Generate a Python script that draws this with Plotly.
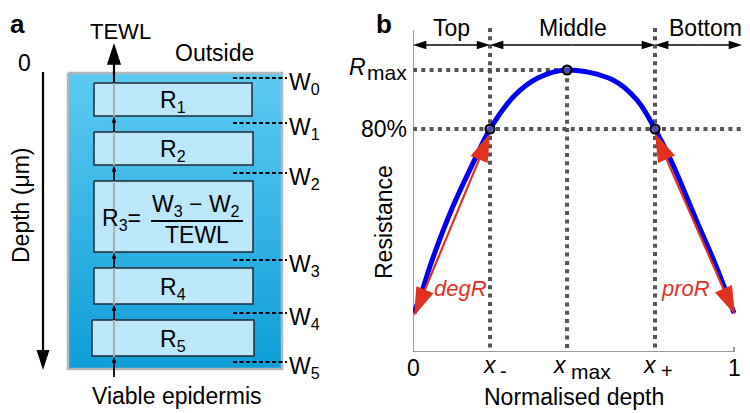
import plotly.graph_objects as go

FONT = "Liberation Sans, Arial, sans-serif"
RED = "#e2321f"
DOT = "#555555"

# ---------------- Panel b data (normalised depth vs resistance, Rmax = 1) ----------------
depth_x = [0.003, 0.028, 0.062, 0.121, 0.193, 0.240, 0.318, 0.389, 0.480,
           0.623, 0.698, 0.754, 0.807, 0.885, 0.944, 1.000]
resistance_y = [0.176, 0.251, 0.363, 0.529, 0.698, 0.800, 0.915, 0.973, 1.000,
                0.966, 0.898, 0.800, 0.685, 0.485, 0.336, 0.176]
x_minus, x_max, x_plus = 0.240, 0.480, 0.754
r_max, r_80 = 1.0, 0.8
deg_arrow_x, deg_arrow_y = [0.240, 0.003], [0.786, 0.166]
pro_arrow_x, pro_arrow_y = [0.754, 1.003], [0.786, 0.170]
region_labels = ["Top", "Middle", "Bottom"]
region_edges = [0.0, x_minus, x_plus, 1.025]
region_label_x = [0.12, 0.497, 0.91]

# ---------------- Panel a layout (schematic, pixel units) ----------------
layer_names = ["R<sub>1</sub>", "R<sub>2</sub>", "", "R<sub>4</sub>", "R<sub>5</sub>"]
layer_top = [83, 132, 181, 268, 320]
layer_bottom = [116, 165, 252, 304, 356]
layer_left = [94, 94, 94, 94, 92]
layer_right = [252, 253, 253, 253, 254]
w_labels = ["W<sub>0</sub>", "W<sub>1</sub>", "W<sub>2</sub>", "W<sub>3</sub>", "W<sub>4</sub>", "W<sub>5</sub>"]
w_levels = [78, 123, 173, 260, 313, 362]
box = dict(x0=68, x1=282, y0=73, y1=369)
flux_x = 114

# page offset (browser body margin) and figure size
OFF = 8
FIG_W, FIG_H = 750 - OFF, 413 - OFF


# panel b pixel mapping helpers (x: 0->413px, 1->734px ; y: Rmax->70px, 80%->129px)
def by(py):
    return 1 - (py - 70) / 295.0


def bx(px):
    return (px - 413) / 321.0


Y_BOTTOM = by(352)
Y_TOP = 1.16
X_END = 1.045

fig = go.Figure()


def line(xs, ys, color, width, dash=None, xa="x", ya="y"):
    fig.add_trace(go.Scatter(x=xs, y=ys, mode="lines",
                             line=dict(color=color, width=width, dash=dash),
                             xaxis=xa, yaxis=ya, showlegend=False, hoverinfo="skip"))


def arrow(xs, ys, color, width, size, xa="x", ya="y"):
    fig.add_trace(go.Scatter(x=xs, y=ys, mode="lines+markers",
                             line=dict(color=color, width=width),
                             marker=dict(symbol="arrow", size=[0] * (len(xs) - 1) + [size],
                                         color=color, opacity=1, angleref="previous",
                                         line=dict(width=0, color=color)),
                             opacity=1,
                             xaxis=xa, yaxis=ya, showlegend=False, hoverinfo="skip",
                             cliponaxis=False))


# ================= Panel a =================
fig.add_trace(go.Scatter(
    x=[box["x0"], box["x1"], box["x1"], box["x0"], box["x0"]],
    y=[box["y0"], box["y0"], box["y1"], box["y1"], box["y0"]],
    mode="lines", fill="toself",
    fillgradient=dict(type="vertical", colorscale=[[0, "#5ccaf2"], [1, "#0e9ed8"]],
                      start=box["y0"], stop=box["y1"]),
    line=dict(color="#b2b7ba", width=2.5),
    xaxis="x2", yaxis="y2", showlegend=False, hoverinfo="skip"))

for l, r, t, b in zip(layer_left, layer_right, layer_top, layer_bottom):
    fig.add_trace(go.Scatter(x=[l, r, r, l, l], y=[t, t, b, b, t], mode="lines",
                             fill="toself", fillcolor="#bce7f9",
                             line=dict(color="#1e2a35", width=1.5),
                             xaxis="x2", yaxis="y2", showlegend=False, hoverinfo="skip"))

line([flux_x, flux_x], [box["y0"], box["y1"]], "#a9aeb1", 2, xa="x2", ya="y2")

# flux arrows between layers
for i in range(1, 5):
    arrow([flux_x, flux_x], [layer_top[i], layer_bottom[i - 1]], "black", 1.8, 7, "x2", "y2")
arrow([flux_x, flux_x], [377, layer_bottom[4]], "black", 1.8, 7, "x2", "y2")
arrow([flux_x, flux_x], [layer_top[0], 43], "black", 2.2, 23, "x2", "y2")

# depth axis arrow
arrow([43, 43], [72, 370], "black", 2.2, 21, "x2", "y2")

# W dashed levels
for w in w_levels:
    line([233, 287], [w, w], "black", 2, dash="4px,2.5px", xa="x2", ya="y2")

# R3 fraction bar
line([151, 243], [221, 221], "black", 2, xa="x2", ya="y2")

# ================= Panel b =================
# dotted guides
DASH = "4px,4.3px"
line([x_minus, x_minus], [by(28), Y_BOTTOM], DOT, 4, dash=DASH)
line([x_plus, x_plus], [by(28), Y_BOTTOM], DOT, 4, dash=DASH)
line([x_max, x_max], [r_max, Y_BOTTOM], DOT, 4, dash=DASH)
line([0, x_max], [r_max, r_max], DOT, 4, dash=DASH)
line([0, bx(748)], [r_80, r_80], DOT, 4, dash=DASH)

# axes lines
line([0, 0, 1, 1], [by(30), Y_BOTTOM, Y_BOTTOM, Y_BOTTOM + 5 / 295.0], "#7a7a7a", 1.5)

# region double arrows
top_y = by(45)
for a, b in zip(region_edges[:-1], region_edges[1:]):
    mid = (a + b) / 2
    arrow([mid, a], [top_y, top_y], "black", 1.5, 14)
    arrow([mid, b], [top_y, top_y], "black", 1.5, 14)

# resistance curve
fig.add_trace(go.Scatter(x=depth_x, y=resistance_y, mode="lines",
                         line=dict(color="#0000f0", width=5, shape="spline", smoothing=1.0),
                         xaxis="x", yaxis="y", showlegend=False, hoverinfo="skip"))

# degR / proR arrows (double headed)
for ax_, ay_ in [(deg_arrow_x, deg_arrow_y), (pro_arrow_x, pro_arrow_y)]:
    mx, my = (ax_[0] + ax_[1]) / 2, (ay_[0] + ay_[1]) / 2
    arrow([mx, ax_[0]], [my, ay_[0]], RED, 2.2, 30)
    arrow([mx, ax_[1]], [my, ay_[1]], RED, 2.2, 30)

# key points
fig.add_trace(go.Scatter(x=[x_minus, x_max, x_plus], y=[r_80, r_max, r_80], mode="markers",
                         marker=dict(symbol="circle", size=9, color="rgba(120,120,160,0.6)",
                                     line=dict(color="black", width=2.2)),
                         xaxis="x", yaxis="y", showlegend=False, hoverinfo="skip",
                         cliponaxis=False))

# ================= Text =================
ann = []


def txt(text, x, y, size=23, xanchor="center", color="black", xref="x2", yref="y2",
        angle=0, bold=False, italic=False):
    t = text
    if italic:
        t = "<i>" + t + "</i>"
    if bold:
        t = "<b>" + t + "</b>"
    ann.append(dict(text=t, x=x, y=y, xref=xref, yref=yref, showarrow=False,
                    xanchor=xanchor, yanchor="middle", textangle=angle,
                    font=dict(family=FONT, size=size, color=color)))


# panel a text
txt("a", 17, 24, size=26, bold=True)
txt("TEWL", 120, 31, size=22)
txt("Outside", 214, 53)
txt("0", 24, 63)
txt("Depth (μm)", 21, 205, angle=-90)
for name, t, b in zip(layer_names, layer_top, layer_bottom):
    if name:
        txt(name, 173, (t + b) / 2 + 2)
txt("R<sub>3</sub>=", 100, 219, xanchor="left")
txt("W<sub>3</sub> − W<sub>2</sub>", 196, 205)
txt("TEWL", 197, 235)
for lab, w in zip(w_labels, w_levels):
    txt(lab, 287, w + 5, xanchor="left")
txt("Viable epidermis", 177, 396)

# panel b text
txt("b", 384, 24, size=26, bold=True)
for lab, lx in zip(region_labels, region_label_x):
    txt(lab, lx, 28, xref="x")
txt("R", 368, 67, xanchor="right", italic=True)
txt("max", 409, 72, size=21, xanchor="right")
txt("80%", 409, 129, xanchor="right")
txt("Resistance", 384, 222, angle=-90)
txt("0", 0, 368, xref="x")
txt("1", 1, 368, xref="x")
txt("x", x_minus, 365, xref="x", italic=True)
txt("-", bx(503), 371, xref="x", size=20)
txt("x", bx(560), 365, xref="x", italic=True)
txt("max", bx(591), 371, xref="x", size=21)
txt("x", bx(650), 365, xref="x", italic=True)
txt("+", bx(667), 371, xref="x", size=20)
txt("Normalised depth", 0.503, 397, xref="x")
txt("degR", 460, 288, size=22, color=RED, italic=True)
txt("proR", 685, 288, size=22, color=RED, italic=True)

fig.update_layout(
    width=FIG_W, height=FIG_H, autosize=False,
    margin=dict(l=0, r=0, t=0, b=0, pad=0),
    paper_bgcolor="white", plot_bgcolor="rgba(0,0,0,0)",
    annotations=ann,
    xaxis=dict(domain=[(413 - OFF) / FIG_W, (413 + X_END * 321 - OFF) / FIG_W], range=[0, X_END],
               visible=False, anchor="y"),
    yaxis=dict(domain=[(413 - 352) / FIG_H, (413 - (70 - (Y_TOP - 1) * 295)) / FIG_H],
               range=[Y_BOTTOM, Y_TOP], visible=False, anchor="x"),
    xaxis2=dict(domain=[0, 1], range=[OFF, 750], visible=False, anchor="y2"),
    yaxis2=dict(domain=[0, 1], range=[413, OFF], visible=False, anchor="x2"),
)

fig.write_html("out.html")
